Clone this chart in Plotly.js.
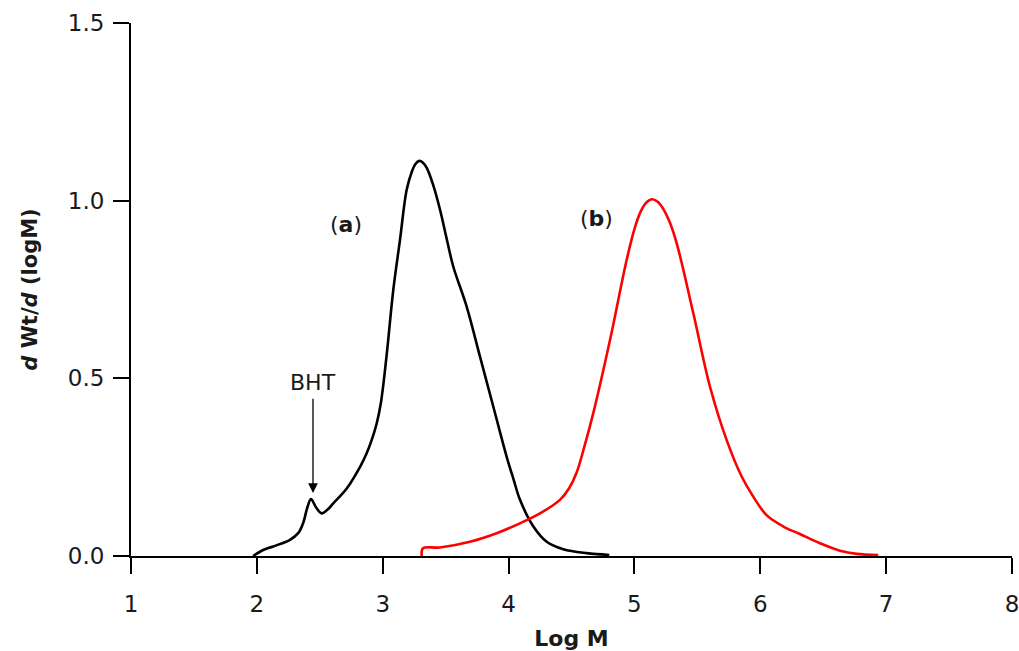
<!DOCTYPE html>
<html>
<head>
<meta charset="utf-8">
<script src="https://cdn.plot.ly/plotly-3.0.1.min.js"></script>
<style>html,body{margin:0;padding:0;background:#fff;}#chart{width:1019px;height:651px;}</style>
</head>
<body>
<div id="chart"></div>
<script>
// Curve (a): black
const logM_a = [1.97, 2.05, 2.13, 2.26, 2.33, 2.37, 2.40, 2.43, 2.47, 2.515, 2.56, 2.607, 2.714, 2.82, 2.87, 2.912, 2.95, 2.985, 3.03, 3.084, 3.137, 3.19, 3.23, 3.26, 3.29, 3.32, 3.35, 3.40, 3.455, 3.51, 3.561, 3.667, 3.773, 3.879, 3.985, 4.04, 4.091, 4.197, 4.303, 4.435, 4.62, 4.8];
const w_a    = [0.0, 0.017, 0.027, 0.045, 0.065, 0.095, 0.135, 0.16, 0.137, 0.12, 0.13, 0.148, 0.19, 0.251, 0.287, 0.326, 0.37, 0.43, 0.561, 0.749, 0.889, 1.03, 1.08, 1.103, 1.112, 1.107, 1.092, 1.045, 0.975, 0.89, 0.814, 0.702, 0.561, 0.42, 0.279, 0.215, 0.158, 0.083, 0.04, 0.019, 0.008, 0.003];

// Curve (b): red
const logM_b = [3.31, 3.32, 3.455, 3.693, 3.905, 4.09, 4.25, 4.408, 4.48, 4.541, 4.6, 4.673, 4.806, 4.938, 5.0, 5.044, 5.09, 5.137, 5.185, 5.229, 5.28, 5.336, 5.468, 5.6, 5.733, 5.85, 5.944, 6.05, 6.183, 6.315, 6.474, 6.633, 6.766, 6.937];
const w_b    = [0.0, 0.022, 0.024, 0.04, 0.064, 0.092, 0.12, 0.158, 0.19, 0.235, 0.305, 0.402, 0.608, 0.833, 0.92, 0.965, 0.993, 1.004, 0.997, 0.977, 0.94, 0.88, 0.683, 0.477, 0.326, 0.225, 0.167, 0.115, 0.083, 0.062, 0.036, 0.015, 0.006, 0.003];

const xTicks = [1, 2, 3, 4, 5, 6, 7, 8];
const yTicks = [0, 0.5, 1.0, 1.5];
const yTickText = ['0.0', '0.5', '1.0', '1.5'];

const FONT = 'DejaVu Sans, Liberation Sans, Arial, sans-serif';
const TXT = '#1a1a1a';

const traces = [
  {x: logM_a, y: w_a, mode: 'lines', line: {color: '#000000', width: 2.6, shape: 'spline', smoothing: 1.0}, hoverinfo: 'skip', showlegend: false},
  {x: logM_b, y: w_b, mode: 'lines', line: {color: '#ff0000', width: 2.6, shape: 'spline', smoothing: 1.0}, hoverinfo: 'skip', showlegend: false}
];

const layout = {
  width: 1019, height: 651,
  margin: {l: 131, r: 7, t: 23, b: 95},
  paper_bgcolor: '#ffffff', plot_bgcolor: '#ffffff',
  font: {family: FONT, color: TXT, size: 22},
  showlegend: false,
  xaxis: {
    range: [1, 8], tickvals: xTicks, ticktext: xTicks.map(String),
    showgrid: false, zeroline: false, showline: true, linecolor: '#000', linewidth: 2,
    ticks: 'outside', ticklen: 16, tickwidth: 2, tickcolor: '#000',
    ticklabelstandoff: 10, ticklabeloverflow: 'allow',
    tickfont: {family: FONT, size: 23, color: TXT},
    title: {text: '<b>Log M</b>', font: {family: FONT, size: 22, color: TXT}, standoff: 18}
  },
  yaxis: {
    range: [0, 1.5], tickvals: yTicks, ticktext: yTickText,
    showgrid: false, zeroline: false, showline: true, linecolor: '#000', linewidth: 2,
    ticks: 'outside', ticklen: 16, tickwidth: 2, tickcolor: '#000',
    ticklabelstandoff: 4, ticklabeloverflow: 'allow',
    tickfont: {family: FONT, size: 23, color: TXT},
    title: {text: '<b><i>d</i> Wt/<i>d</i> (logM)</b>', font: {family: FONT, size: 21, color: TXT}, standoff: 24}
  },
  annotations: [
    {x: 2.708, y: 0.932, xref: 'x', yref: 'y', text: '(<b>a</b>)', showarrow: false, font: {family: FONT, size: 22, color: TXT}},
    {x: 4.695, y: 0.951, xref: 'x', yref: 'y', text: '(<b>b</b>)', showarrow: false, font: {family: FONT, size: 22, color: TXT}},
    {x: 2.446, y: 0.487, xref: 'x', yref: 'y', text: 'BHT', showarrow: false, font: {family: FONT, size: 22, color: TXT}},
    {x: 2.446, y: 0.177, xref: 'x', yref: 'y', ax: 2.446, ay: 0.447, axref: 'x', ayref: 'y', text: '', showarrow: true, arrowhead: 2, arrowsize: 1.5, arrowwidth: 1.3, arrowcolor: '#000'}
  ]
};

Plotly.newPlot('chart', traces, layout, {displayModeBar: false, staticPlot: true});
</script>
</body>
</html>
